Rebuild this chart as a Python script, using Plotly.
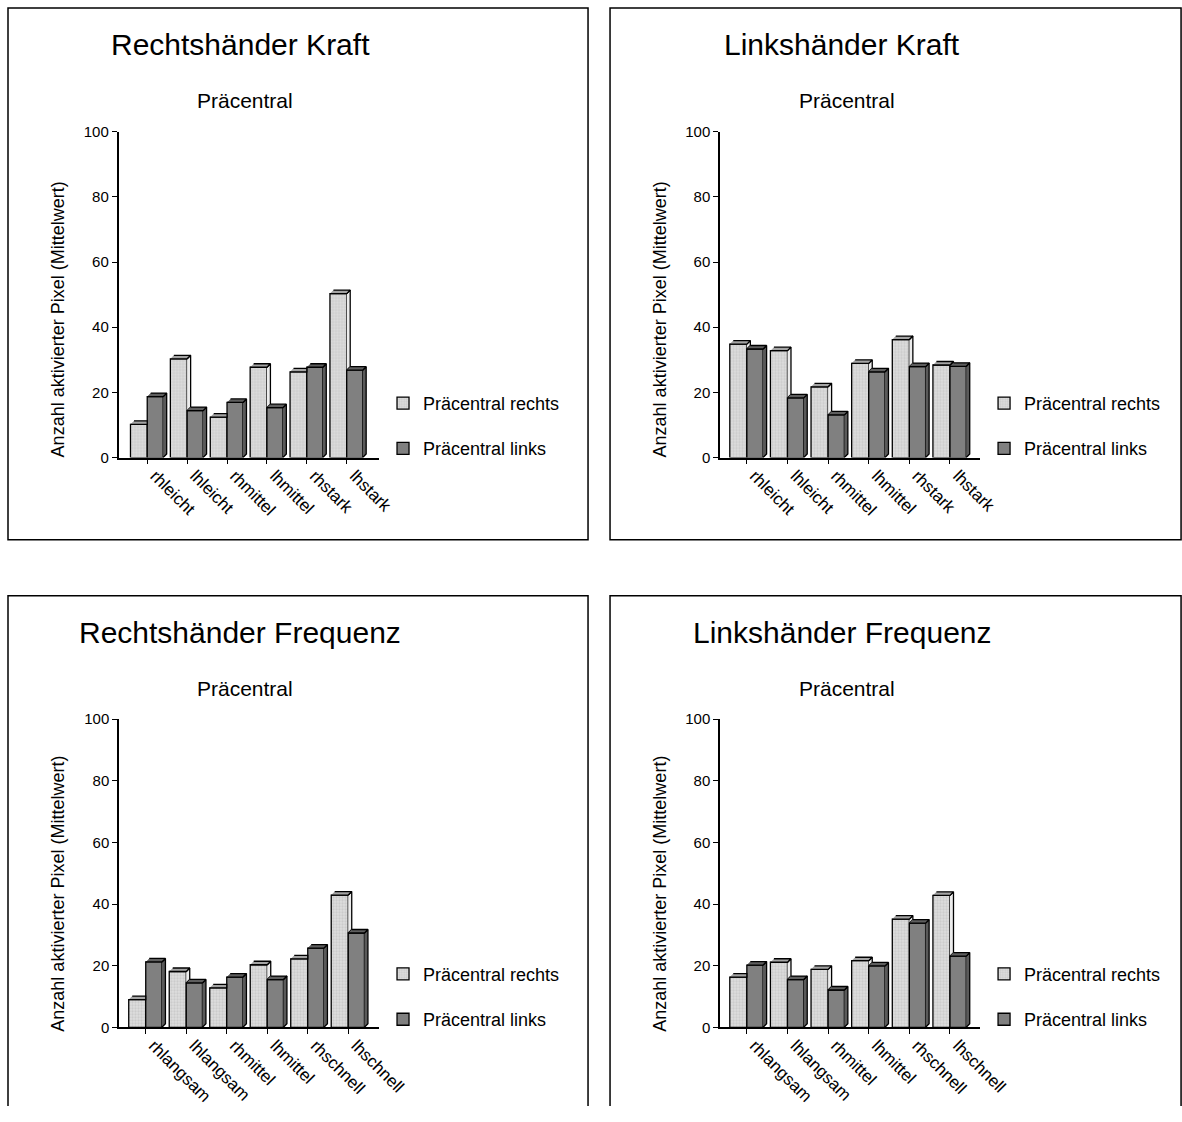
import plotly.graph_objects as go

# figure size and the mapping from target-picture pixels to figure pixels
FW, FH = 1211, 1106
SX, SY, OFFY = 0.976, 0.985, 8

# ---------------- data ----------------
kraft_categories = ["rhleicht", "lhleicht", "rhmittel", "lhmittel", "rhstark", "lhstark"]
freq_categories = ["rhlangsam", "lhlangsam", "rhmittel", "lhmittel", "rhschnell", "lhschnell"]

rh_kraft_rechts = [10.2, 30.3, 12.4, 27.7, 26.3, 50.3]
rh_kraft_links = [18.7, 14.4, 16.9, 15.3, 27.7, 26.8]
lh_kraft_rechts = [34.8, 32.8, 21.7, 28.9, 36.2, 28.4]
lh_kraft_links = [33.3, 18.3, 13.1, 26.3, 27.9, 28.0]
rh_freq_rechts = [9.0, 18.1, 12.8, 20.3, 22.2, 42.9]
rh_freq_links = [21.2, 14.4, 16.3, 15.5, 25.7, 30.6]
lh_freq_rechts = [16.3, 21.1, 18.8, 21.6, 35.1, 42.8]
lh_freq_links = [20.2, 15.5, 12.1, 19.9, 33.8, 23.1]

panel_titles = ["Rechtshänder Kraft", "Linkshänder Kraft",
                "Rechtshänder Frequenz", "Linkshänder Frequenz"]
subtitle = "Präcentral"
y_title = "Anzahl aktivierter Pixel (Mittelwert)"
series_names = ["Präcentral rechts", "Präcentral links"]
y_tick_values = [0, 20, 40, 60, 80, 100]

# ---------------- layout ----------------
FONT = "Arial, 'Liberation Sans', sans-serif"
LIGHT_BG, LIGHT_FG = "#dedede", "#b8b8b8"
LIGHT_TOP, LIGHT_SIDE = "#a4a4a4", "#ececec"
DARK, DARK_TOP, DARK_SIDE = "#808080", "#5e5e5e", "#5a5a5a"
EDGE = 1.3

# positions are given in pixels of the target picture
panels = [
    dict(cats=kraft_categories, vals=(rh_kraft_rechts, rh_kraft_links), box=(8, 7, 588, 539),
         plot=(118.5, 130.7, 379, 456.7), xr=(-0.72, 5.81), tc=240, sc=244.5, ty=44, sy=100,
         yt=(58, 318.5), leg=(383, 384)),
    dict(cats=kraft_categories, vals=(lh_kraft_rechts, lh_kraft_links), box=(610, 7, 1181, 539),
         plot=(720, 130.7, 980, 456.7), xr=(-0.66, 5.74), tc=842, sc=846.5, ty=44, sy=100,
         yt=(660, 318.5), leg=(984, 384)),
    dict(cats=freq_categories, vals=(rh_freq_rechts, rh_freq_links), box=(8, 595, 588, 1140),
         plot=(119, 718.3, 379, 1026.7), xr=(-0.66, 5.76), tc=240, sc=244.5, ty=632, sy=688,
         yt=(58, 893), leg=(383, 955)),
    dict(cats=freq_categories, vals=(lh_freq_rechts, lh_freq_links), box=(610, 595, 1181, 1140),
         plot=(720, 718.3, 980, 1026.7), xr=(-0.66, 5.74), tc=842, sc=846.5, ty=632, sy=688,
         yt=(660, 893), leg=(984, 955)),
]


def px(x):
    return (x / SX) / FW


def py(y):
    return 1 - ((y - OFFY) / SY) / FH


fig = go.Figure()
shapes, annotations = [], []
layout_axes = {}

WL, WD = 0.42, 0.40  # bar widths in category units
DEPTH = 3.5  # pixel depth of the 3D effect

for k, p in enumerate(panels):
    n = k + 1
    xa = "x" if n == 1 else f"x{n}"
    ya = "y" if n == 1 else f"y{n}"
    leg = "legend" if n == 1 else f"legend{n}"
    x0, y0, x1, y1 = p["plot"]
    cats = p["cats"]
    xs = list(range(len(cats)))
    rechts, links = p["vals"]

    dx = DEPTH * (p["xr"][1] - p["xr"][0]) / (x1 - x0)
    dy = DEPTH * 100 / (y1 - y0)

    fig.add_trace(go.Bar(
        x=xs, y=rechts, name=series_names[0], offset=-WL, width=WL,
        marker=dict(color=LIGHT_BG, line=dict(color="black", width=EDGE),
                    pattern=dict(shape=".", bgcolor=LIGHT_BG, fgcolor=LIGHT_FG,
                                 size=3, solidity=0.45, fillmode="overlay")),
        xaxis=xa, yaxis=ya, legend=leg, legendgroup=f"r{n}", hoverinfo="x+y+name"))
    fig.add_trace(go.Bar(
        x=xs, y=links, name=series_names[1], offset=0, width=WD,
        marker=dict(color=DARK, line=dict(color="black", width=EDGE)),
        xaxis=xa, yaxis=ya, legend=leg, legendgroup=f"l{n}", hoverinfo="x+y+name"))

    # 3D faces derived from the data values
    ls_x, ls_y, lt_x, lt_y, ds_x, ds_y, dt_x, dt_y = ([] for _ in range(8))
    for i, L, D in zip(xs, rechts, links):
        if D < L:
            ls_x += [i, i + dx, i + dx, i, None]
            ls_y += [D, D + dy, L + dy, L, None]
            lt_x += [i - WL, i, i + dx, i - WL + dx, None]
            lt_y += [L, L, L + dy, L + dy, None]
        else:
            lt_x += [i - WL, i, i, i - WL + dx, None]
            lt_y += [L, L, L + dy, L + dy, None]
        ds_x += [i + WD, i + WD + dx, i + WD + dx, i + WD, None]
        ds_y += [0, dy, D + dy, D, None]
        dt_x += [i, i + WD, i + WD + dx, i + dx, None]
        dt_y += [D, D, D + dy, D + dy, None]
    for fx, fy, col in [(ls_x, ls_y, LIGHT_SIDE), (lt_x, lt_y, LIGHT_TOP),
                        (ds_x, ds_y, DARK_SIDE), (dt_x, dt_y, DARK_TOP)]:
        if fx:
            fig.add_trace(go.Scatter(
                x=fx, y=fy, mode="lines", fill="toself", fillcolor=col,
                line=dict(color="black", width=EDGE), showlegend=False,
                hoverinfo="skip", xaxis=xa, yaxis=ya))

    layout_axes["xaxis" if n == 1 else f"xaxis{n}"] = dict(
        domain=[px(x0), px(x1)], anchor=ya, range=list(p["xr"]),
        tickvals=xs, ticktext=cats, tickangle=45, ticks="outside", ticklen=5,
        tickwidth=1.3, tickcolor="black", showline=True, linecolor="black", linewidth=1.5,
        showgrid=False, zeroline=False, ticklabelshift=8, ticklabelstandoff=-5,
        tickfont=dict(family=FONT, size=17, color="black"), fixedrange=True)
    layout_axes["yaxis" if n == 1 else f"yaxis{n}"] = dict(
        domain=[py(y1), py(y0)], anchor=xa, range=[0, 100],
        tickvals=y_tick_values, ticks="outside", ticklen=5, tickwidth=1.3,
        tickcolor="black", showline=True, linecolor="black", linewidth=1.5,
        showgrid=False, zeroline=False,
        tickfont=dict(family=FONT, size=15, color="black"), fixedrange=True)

    lx, ly = p["leg"]
    layout_axes[leg] = dict(
        x=px(lx), y=py(ly), xanchor="left", yanchor="top",
        font=dict(family=FONT, size=18, color="black"),
        bgcolor="rgba(0,0,0,0)", tracegroupgap=19, itemwidth=30)

    bx0, by0, bx1, by1 = p["box"]
    shapes.append(dict(type="rect", xref="paper", yref="paper",
                       x0=px(bx0), x1=px(bx1), y0=py(by1), y1=py(by0),
                       line=dict(color="black", width=1.5), layer="below"))
    annotations.append(dict(text=panel_titles[k], x=px(p["tc"]), y=py(p["ty"]),
                            xref="paper", yref="paper", showarrow=False,
                            xanchor="center", yanchor="middle",
                            font=dict(family=FONT, size=30, color="black")))
    annotations.append(dict(text=subtitle, x=px(p["sc"]), y=py(p["sy"]),
                            xref="paper", yref="paper", showarrow=False,
                            xanchor="center", yanchor="middle",
                            font=dict(family=FONT, size=21, color="black")))
    annotations.append(dict(text=y_title, x=px(p["yt"][0]), y=py(p["yt"][1]),
                            xref="paper", yref="paper", showarrow=False, textangle=-90,
                            xanchor="center", yanchor="middle",
                            font=dict(family=FONT, size=18, color="black")))

fig.update_layout(
    width=FW, height=FH, margin=dict(l=0, r=0, t=0, b=0),
    paper_bgcolor="white", plot_bgcolor="white",
    barmode="overlay", font=dict(family=FONT, color="black"),
    shapes=shapes, annotations=annotations, **layout_axes)

fig.write_html("out.html")
